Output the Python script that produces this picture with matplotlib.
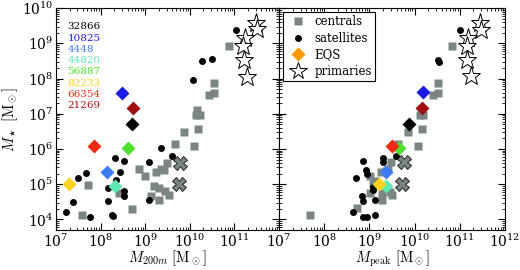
import numpy as np
import matplotlib
matplotlib.use('Agg')
import matplotlib.pyplot as plt

plt.rcParams['font.family'] = ['DejaVu Serif']
plt.rcParams['mathtext.fontset'] = 'cm'

# log10 values
cen_m200 = [10.88, 10.54, 10.54, 10.43, 10.17, 10.13, 10.22, 10.19, 9.87, 9.66, 10.09, 9.48, 8.87,
            9.36, 9.43, 9.23, 9.00, 9.19, 9.30, 9.45, 9.53, 9.13, 9.30, 7.71, 7.59, 8.40, 8.70]
cen_mstar = [8.93, 7.86, 7.58, 7.52, 7.10, 6.96, 6.96, 6.58, 6.49, 6.13, 6.08, 5.61, 5.42,
             5.44, 5.39, 5.36, 5.23, 4.94, 4.89, 4.80, 4.70, 4.67, 4.54, 4.99, 4.12, 4.76, 4.31]
cen_mpeak = [10.83, 10.52, 10.52, 10.40, 10.12, 10.19, 10.17, 9.86, 9.64, 10.08, 9.49, 9.26,
             9.36, 9.42, 9.01, 9.12, 9.09, 9.01, 9.29, 9.46, 9.51, 9.29, 8.72, 7.69]
cen_mstar_pk = [8.93, 7.86, 7.58, 7.52, 6.97, 6.96, 6.58, 6.49, 6.14, 6.09, 5.62, 5.36,
                5.38, 5.42, 5.23, 5.08, 5.00, 4.76, 4.76, 4.78, 4.70, 4.54, 4.33, 4.14]

sat_m200 = [11.03, 10.28, 10.49, 10.07, 7.22, 7.38, 7.50, 7.68, 7.75, 8.16, 8.16, 8.33, 8.35,
            8.43, 8.25, 8.27, 8.52, 8.52, 8.53, 9.08, 9.09, 9.36, 9.59]
sat_mstar = [9.38, 8.49, 8.55, 7.95, 4.22, 4.50, 5.17, 5.32, 4.08, 4.89, 4.52, 5.74, 5.13,
             5.36, 4.14, 4.09, 5.67, 4.80, 4.66, 5.63, 4.54, 6.02, 5.79]
sat_mpeak = [11.00, 10.52, 10.54, 9.60, 9.31, 9.31, 8.87, 8.92, 8.95, 8.70, 9.09, 9.09, 9.12,
             8.83, 8.87, 8.64, 8.87, 8.94, 9.12, 9.20, 9.35]
sat_mstar_pk = [9.38, 8.54, 8.48, 5.79, 5.74, 5.63, 5.67, 5.39, 5.30, 5.17, 4.92, 4.83, 4.54,
                4.67, 4.52, 4.22, 4.08, 4.08, 4.14, 5.02, 5.35]

prim_m200 = [11.48, 11.50, 11.23, 11.20, 11.22, 11.28]
prim_mstar = [9.59, 9.40, 9.15, 8.91, 8.54, 8.05]
prim_mpeak = [11.45, 11.46, 11.19, 11.17, 11.17, 11.24]
prim_mstar_pk = [9.59, 9.38, 9.15, 8.91, 8.54, 8.06]

x_m200 = [9.77, 9.75]
x_mstar = [5.60, 5.01]
x_mpeak = [9.76, 9.73]
x_mstar_pk = [5.62, 5.01]

eqs_ids = ['32866', '10825', '4448', '44820', '56887', '82233', '66354', '21269']
eqs_colors = ['#000000', '#1a1ae6', '#3d7cf5', '#5ee8b4', '#4ee02c', '#fbd21e', '#ee2a14', '#a01010']
eqs_m200 = [8.70, 8.48, 8.14, 8.31, 8.61, 7.29, 7.86, 8.73]
eqs_mstar = [6.70, 7.60, 5.34, 4.95, 6.03, 5.01, 6.08, 7.15]
eqs_mpeak = [9.88, 10.19, 9.37, 9.37, 9.66, 9.22, 9.51, 10.17]
eqs_mstar_pk = [6.72, 7.61, 5.36, 4.95, 6.02, 5.01, 6.08, 7.15]

gray = '#7b8584'


def p(v):
    return np.power(10.0, np.asarray(v))


fig = plt.figure(figsize=(5.2, 2.7), dpi=100)
ax1 = fig.add_axes([0.108, 0.148, 0.4285, 0.822])
ax2 = fig.add_axes([0.5365, 0.148, 0.4345, 0.822], sharey=ax1)

panels = [
    (ax1, cen_m200, cen_mstar, sat_m200, sat_mstar, prim_m200, prim_mstar, x_m200, x_mstar, eqs_m200, eqs_mstar),
    (ax2, cen_mpeak, cen_mstar_pk, sat_mpeak, sat_mstar_pk, prim_mpeak, prim_mstar_pk, x_mpeak, x_mstar_pk,
     eqs_mpeak, eqs_mstar_pk),
]

for ax, cx, cy, sx, sy, px, py, xx, xy, ex, ey in panels:
    ax.plot(p(cx), p(cy), 's', color=gray, ms=5.5, mec='none')
    ax.plot(p(sx), p(sy), 'o', color='black', ms=5, mec='none')
    ax.plot(p(xx), p(xy), 'X', color=gray, ms=10, mec='#333333', mew=0.8)
    for i in range(len(ex)):
        ax.plot(p(ex[i]), p(ey[i]), 'D', color=eqs_colors[i], ms=7.5, mec='none')
    ax.plot(p(px), p(py), '*', mfc='white', mec='black', ms=14, mew=0.7)
    ax.set_xscale('log')
    ax.set_yscale('log')
    ax.set_xlim(1e7, 1e12)
    ax.set_ylim(5e3, 1e10)
    ax.tick_params(which='both', direction='in', top=True, right=True, labelsize=10, pad=2)
    ax.tick_params(which='major', length=5)
    ax.tick_params(which='minor', length=2.5)

ax1.set_xticks([1e7, 1e8, 1e9, 1e10, 1e11])
ax2.set_xticks([1e7, 1e8, 1e9, 1e10, 1e11, 1e12])
ax1.set_yticks([1e4, 1e5, 1e6, 1e7, 1e8, 1e9, 1e10])
ax1.set_xlim(1e7, 1e12)
ax2.tick_params(labelleft=False)

ax1.set_xlabel(r'$M_{200m}\ [\mathrm{M}_\odot]$', fontsize=10.5, labelpad=-1)
ax2.set_xlabel(r'$M_{\rm peak}\ [\mathrm{M}_\odot]$', fontsize=10.5, labelpad=-1)
ax1.set_ylabel(r'$M_\star\ [\mathrm{M}_\odot]$', fontsize=10.5, labelpad=1)

# halo ids in the left panel
for i, (name, c) in enumerate(zip(eqs_ids, eqs_colors)):
    ax1.text(0.05, 0.915 - i * 0.0505, name, transform=ax1.transAxes, color=c,
             fontsize=7.5, va='center', ha='left')

# legend in the right panel
h_cen = plt.Line2D([], [], ls='none', marker='s', color=gray, ms=5.5, mec='none')
h_sat = plt.Line2D([], [], ls='none', marker='o', color='black', ms=5, mec='none')
h_eqs = plt.Line2D([], [], ls='none', marker='D', color='#ff9900', ms=7, mec='none')
h_pri = plt.Line2D([], [], ls='none', marker='*', mfc='white', mec='black', ms=13, mew=0.7)
leg = ax2.legend([h_cen, h_sat, h_eqs, h_pri], ['centrals', 'satellites', 'EQS', 'primaries'],
                 loc='upper left', fontsize=8.5, fancybox=False, framealpha=1, edgecolor='black',
                 borderaxespad=0.3, handletextpad=0.4, labelspacing=0.3, borderpad=0.3)
leg.get_frame().set_linewidth(0.8)

fig.savefig('out.png', dpi=100)
